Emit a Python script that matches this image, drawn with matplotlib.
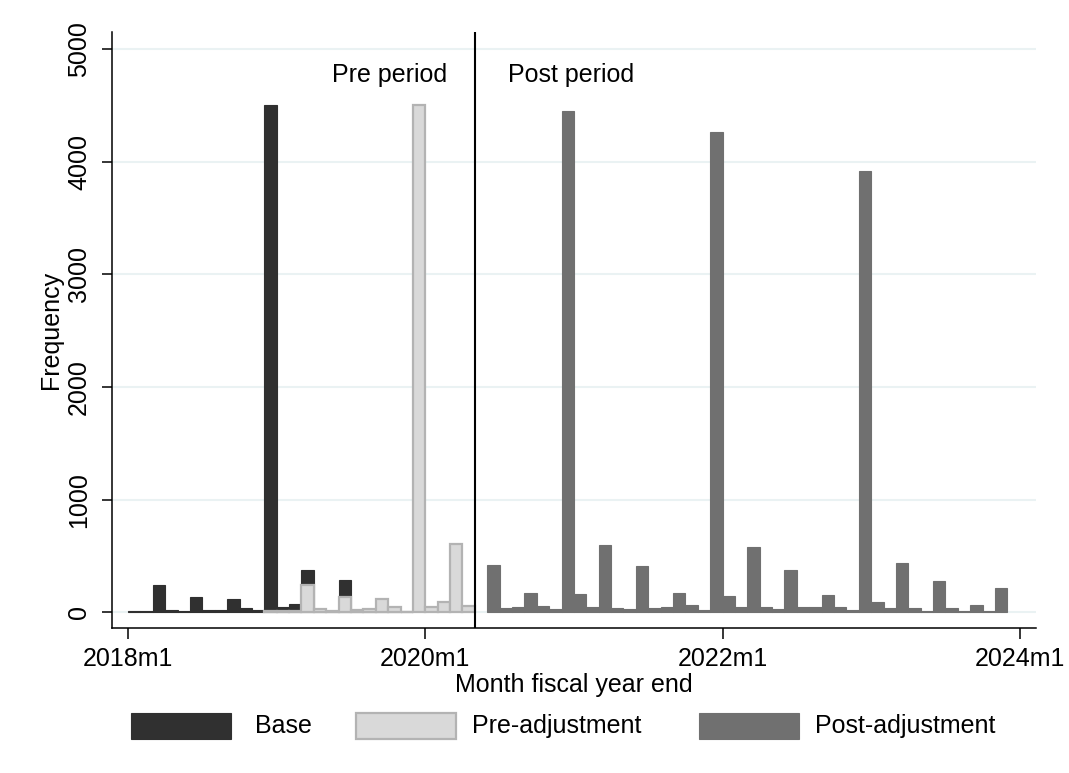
import numpy as np
import matplotlib.pyplot as plt
from matplotlib.patches import Rectangle

plt.rcParams['font.family'] = ['Liberation Sans', 'DejaVu Sans']

# month index 0 = 2018m1
base_start = 0
base_vals = [12, 15, 245, 18, 10, 140, 20, 20, 120, 40, 20, 4500,
             44, 75, 375, 12, 10, 285, 10, 12, 10, 6, 10]
pre_start = 11
pre_vals = [10, 10, 10, 240, 27, 15, 135, 22, 27, 118, 45, 5,
            4500, 52, 92, 605, 55]
post_start = 29
post_vals = [425, 40, 50, 175, 58, 30, 4450, 160, 50, 600, 42, 33,
             415, 42, 48, 170, 70, 25, 4265, 150, 48, 585, 50, 27,
             380, 48, 45, 155, 50, 25, 3920, 95, 40, 440, 40, 10,
             280, 35, 15, 65, 10, 220]

tick_pos = [0, 24, 48, 72]
tick_labels = ['2018m1', '2020m1', '2022m1', '2024m1']
cutoff = 28
series_names = ['Base', 'Pre-adjustment', 'Post-adjustment']

c_base = '#303030'
c_pre = '#d9d9d9'
c_pre_edge = '#b3b3b3'
c_post = '#707070'

W, H = 1069, 773
fig = plt.figure(figsize=(W / 100, H / 100), dpi=100)
ax = fig.add_axes([0.1045, 0.187, 0.8645, 0.7716])

x_base = base_start + np.arange(len(base_vals))
x_pre = pre_start + np.arange(len(pre_vals))
x_post = post_start + np.arange(len(post_vals))

ax.bar(x_base, base_vals, width=1, align='edge', color=c_base,
       edgecolor=c_base, linewidth=0.8, zorder=2)
ax.bar(x_pre, pre_vals, width=1, align='edge', color=c_pre,
       edgecolor=c_pre_edge, linewidth=1.6, zorder=3)
ax.bar(x_post, post_vals, width=1, align='edge', color=c_post,
       edgecolor=c_post, linewidth=0.8, zorder=4)

ax.axvline(cutoff, color='black', linewidth=1.5, zorder=5)
ax.text(25.8, 4770, 'Pre period', ha='right', va='center', fontsize=18)
ax.text(30.7, 4770, 'Post period', ha='left', va='center', fontsize=18)

ax.set_xlim(-1.32, 73.3)
ax.set_ylim(-142, 5150)
ax.set_yticks(range(0, 5001, 1000))
ax.set_yticklabels([str(v) for v in range(0, 5001, 1000)], rotation=90,
                   va='center', fontsize=18)
ax.set_xticks(tick_pos)
ax.set_xticklabels(tick_labels, fontsize=18)
ax.tick_params(axis='y', length=7, width=1.1, pad=8)
ax.tick_params(axis='x', length=8, width=1.1, pad=5)
ax.grid(axis='y', color='#eaf2f3', linewidth=1.5, zorder=0)
ax.set_axisbelow(True)

for s in ['top', 'right']:
    ax.spines[s].set_visible(False)
for s in ['left', 'bottom']:
    ax.spines[s].set_linewidth(1.1)

ax.set_ylabel('Frequency', fontsize=18, labelpad=3)
ax.set_xlabel('Month fiscal year end', fontsize=18, labelpad=2)

# legend laid out like Stata's (pixel positions)
leg_style = [(c_base, c_base, 0.8), (c_pre, c_pre_edge, 1.6), (c_post, c_post, 0.8)]
patch_x = [131, 356, 699]
text_x = [255, 472, 815]
for name, (fc, ec, lw), px, tx in zip(series_names, leg_style, patch_x, text_x):
    fig.add_artist(Rectangle((px / W, 1 - 739 / H), 100 / W, 26 / H,
                             facecolor=fc, edgecolor=ec, linewidth=lw,
                             transform=fig.transFigure))
    fig.text(tx / W, 1 - 726 / H, name, ha='left', va='center', fontsize=18)

fig.savefig('out.png', dpi=100, facecolor='white')
